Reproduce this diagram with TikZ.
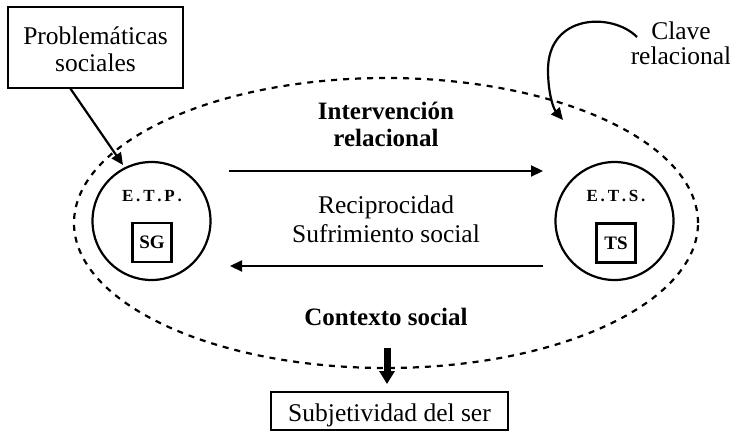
\documentclass[tikz,border=0pt]{standalone}
\usepackage{fontspec}
\setmainfont{Liberation Serif}
\usetikzlibrary{arrows.meta,shapes.geometric}
\begin{document}
\begin{tikzpicture}[x=1pt,y=-1pt,
  lbl/.style={font=\fontsize{25.5}{27}\selectfont, inner sep=0pt, align=center},
  blbl/.style={font=\fontsize{25}{26}\selectfont\bfseries, inner sep=0pt, align=center},
  sbox/.style={draw, line width=2.2pt, rectangle, inner sep=0pt},
  ent/.style={draw, line width=2.2pt, circle, minimum size=118pt, inner sep=0pt},
  abbr/.style={font=\fontsize{17}{18}\selectfont\bfseries, inner sep=0pt},
  tag/.style={draw, line width=2.2pt, rectangle, minimum size=39pt, inner sep=0pt, font=\fontsize{19}{21}\selectfont\bfseries},
  arr/.style={line width=2.2pt, -{Triangle[length=12pt,width=11pt]}},
  ctxline/.style={draw, line width=2.2pt, dash pattern=on 6pt off 6pt}
]
\useasboundingbox (0,0) rectangle (730,433);

% dashed context ellipse
\node[ellipse, ctxline, minimum width=624pt, minimum height=290pt, inner sep=0pt] (ctx) at (386,223) {};

% top-left box
\node[sbox, minimum width=175pt, minimum height=81pt] (prob) at (95.5,47.5) {};
\node[lbl, font=\fontsize{25.5}{27}\selectfont, anchor=base] (probt) at (95.5,72) {Problemáticas\\sociales};

% entities
\node[ent] (etp) at (151.5,221) {};
\node[ent] (ets) at (614.5,221) {};
\node[abbr, anchor=base] (etpt) at (152,201.5) {E\kern2.8pt.\kern2.8pt T\kern2.8pt.\kern2.8pt P\kern2.8pt.};
\node[abbr, anchor=base] (etst) at (616,201.5) {E\kern2.8pt.\kern2.8pt T\kern2.8pt.\kern2.8pt S\kern2.8pt.};
\node[tag] (sg) at (152,242.5) {SG};
\node[tag] (ts) at (616,243) {TS};

% labels
\node[blbl, anchor=base] (interv) at (386,146) {Intervención\\relacional};
\node[lbl, font=\fontsize{25.5}{29}\selectfont, anchor=base] (recip) at (386,242) {Reciprocidad\\Sufrimiento social};
\node[blbl, anchor=base] (contexto) at (386,325) {Contexto social};
\node[lbl, font=\fontsize{25.5}{25}\selectfont, anchor=base] (clave) at (681,65) {Clave\\relacional};

% bottom box
\node[sbox, minimum width=237pt, minimum height=38pt] (subj) at (389.5,411) {};
\node[lbl, anchor=base] (subjt) at (389.5,421) {Subjetividad del ser};

% horizontal arrows
\coordinate (t1) at (229,171);
\coordinate (t2) at (543,171);
\coordinate (b1) at (543,266);
\coordinate (b2) at (230,266);
\draw[arr] (t1) -- (t2);
\draw[arr] (b1) -- (b2);

% problematicas arrow
\coordinate (p1) at (70,88);
\coordinate (p2) at (123,165);
\draw[arr] (p1) -- (p2);

% clave relacional curved arrow
\coordinate (c1) at (637,37);
\coordinate (c2) at (563,120);
\draw[arr] (c1) .. controls (612,12) and (548,14) .. (548,70) .. controls (548,92) and (553,108) .. (c2);

% thick down arrow
\coordinate (d1) at (387,348);
\coordinate (d2) at (387,384);
\draw[line width=7pt, -{Triangle[length=13pt,width=15pt]}] (d1) -- (d2);
\end{tikzpicture}
\end{document}
